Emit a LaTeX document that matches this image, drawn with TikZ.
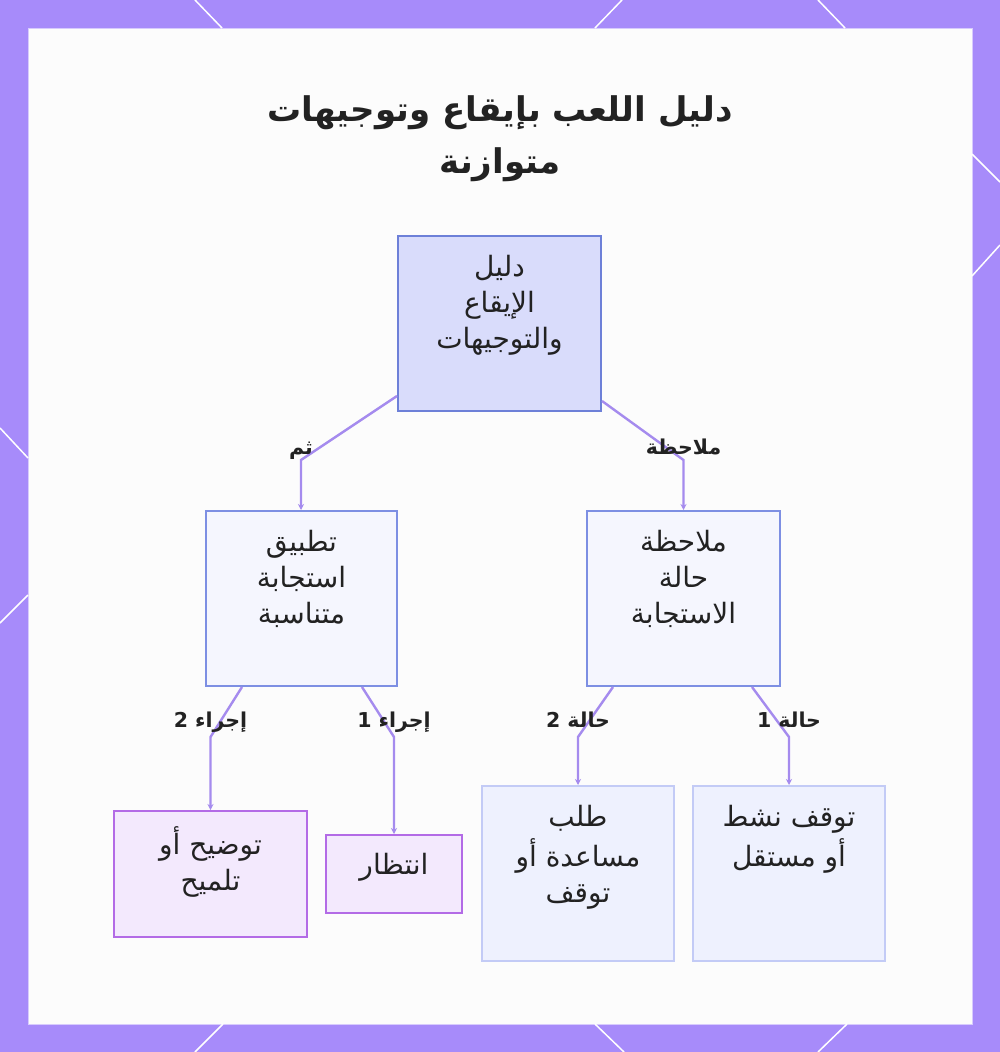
\documentclass[tikz,border=0pt]{standalone}
\usepackage{fontspec}
\usetikzlibrary{positioning}
\usetikzlibrary{calc}
\usetikzlibrary{arrows.meta}
\TeXXeTstate=1
\newfontfamily\arabicfont[Script=Arabic]{DejaVu Sans}
\newcommand{\ar}[1]{\beginR\strut #1\endR}
\definecolor{framecol}{HTML}{A78BFA}
\definecolor{edgecol}{HTML}{A58BEE}
\definecolor{ink}{HTML}{222222}
\definecolor{rootfill}{HTML}{D9DCFB}
\definecolor{rootline}{HTML}{6D80D8}
\definecolor{midfill}{HTML}{F5F6FE}
\definecolor{midline}{HTML}{7D8FE3}
\definecolor{leaffill}{HTML}{EEF1FE}
\definecolor{leafline}{HTML}{C3CBF6}
\definecolor{actfill}{HTML}{F3E9FD}
\definecolor{actline}{HTML}{B36BE6}
\tikzset{>={Stealth[length=6pt,width=6pt]}}
\tikzset{edge/.style={draw=edgecol, line width=2.4pt, ->}}
\tikzset{rootbox/.style={draw=rootline, fill=rootfill, line width=2pt, inner sep=0pt}}
\tikzset{midbox/.style={draw=midline, fill=midfill, line width=2pt, inner sep=0pt}}
\tikzset{leafbox/.style={draw=leafline, fill=leaffill, line width=2pt, inner sep=0pt}}
\tikzset{actbox/.style={draw=actline, fill=actfill, line width=2pt, inner sep=0pt}}
\tikzset{boxtext/.style={anchor=north, align=center, inner sep=0pt, text=ink, font=\arabicfont\fontsize{28}{36}\selectfont}}
\tikzset{lbl/.style={inner sep=0pt, text=ink, font=\arabicfont\bfseries\fontsize{20.5}{24}\selectfont}}
\tikzset{cornerline/.style={draw=white, line width=1.5pt}}

\begin{document}
\begin{tikzpicture}[x=1pt, y=-1pt]
\useasboundingbox (0,0) rectangle (1000,1052);

% frame
\fill[framecol] (0,0) rectangle (1000,1052);
\fill[white!98!gray] (28,28) rectangle (972,1024);
\draw[framecol!45, line width=1pt] (28,28) rectangle (972,1024);
\foreach \xa/\ya/\xb/\yb in {195/0/222/28, 622/0/595/28, 818/0/845/28,
    223/1024/195/1052, 595/1024/624/1052, 847/1024/818/1052,
    0/428/28/458, 28/595/0/623, 972/154/1000/182, 1000/245/972/276}
  \draw[cornerline] (\xa,\ya) -- (\xb,\yb);

% title
\node (title) [align=center, text=ink, font=\arabicfont\bfseries\fontsize{34}{52}\selectfont] at (500, 137)
  {\ar{دليل اللعب بإيقاع وتوجيهات}\\\ar{متوازنة}};

% boxes
\node (root) [rootbox, minimum width=203pt, minimum height=175pt] at (499.5, 323.5) {};
\node (rootT) [boxtext] at ([yshift=-16pt]root.north) {\ar{دليل}\\\ar{الإيقاع}\\\ar{والتوجيهات}};

\node (apply) [midbox, minimum width=191pt, minimum height=175pt] at (301.5, 598.5) {};
\node (applyT) [boxtext] at ([yshift=-16pt]apply.north) {\ar{تطبيق}\\\ar{استجابة}\\\ar{متناسبة}};

\node (observe) [midbox, minimum width=193pt, minimum height=175pt] at (683.5, 598.5) {};
\node (observeT) [boxtext] at ([yshift=-16pt]observe.north) {\ar{ملاحظة}\\\ar{حالة}\\\ar{الاستجابة}};

\node (clue) [actbox, minimum width=193pt, minimum height=126pt] at (210.5, 874) {};
\node (clueT) [boxtext] at ([yshift=-16pt]clue.north) {\ar{توضيح أو}\\\ar{تلميح}};

\node (wait) [actbox, minimum width=136pt, minimum height=78pt] at (394, 874) {};
\node (waitT) [boxtext] at ([yshift=-15pt]wait.north) {\ar{انتظار}};

\node (help) [leafbox, minimum width=192pt, minimum height=175pt] at (578, 873.5) {};
\node (helpT) [boxtext] at ([yshift=-16pt]help.north) {\ar{طلب}\\\ar{مساعدة أو}\\\ar{توقف}};

\node (pause) [leafbox, minimum width=192pt, minimum height=175pt] at (789, 873.5) {};
\node (pauseT) [boxtext] at ([yshift=-16pt]pause.north) {\ar{توقف نشط}\\\ar{أو مستقل}};

% connectors
\coordinate (bendA) at (301, 460);
\coordinate (bendB) at (683.5, 460);
\coordinate (bendC) at (210.5, 737);
\coordinate (bendD) at (394, 737);
\coordinate (bendE) at (578, 737);
\coordinate (bendF) at (789, 737);

\draw[edge] ([yshift=16pt]root.south west) -- (bendA) -- (bendA |- apply.north);
\draw[edge] ([yshift=11pt]root.south east) -- (bendB) -- (bendB |- observe.north);
\draw[edge] ([xshift=37pt]apply.south west) -- (bendC) -- (bendC |- clue.north);
\draw[edge] ([xshift=-36pt]apply.south east) -- (bendD) -- (bendD |- wait.north);
\draw[edge] ([xshift=27pt]observe.south west) -- (bendE) -- (bendE |- help.north);
\draw[edge] ([xshift=-29pt]observe.south east) -- (bendF) -- (bendF |- pause.north);

\node (thenL) [lbl] at ([yshift=10pt]bendA) {\ar{ثم}};
\node (noteL) [lbl] at ([yshift=10pt]bendB) {\ar{ملاحظة}};
\node (act2L) [lbl] at ([yshift=14pt]bendC) {\ar{إجراء 2}};
\node (act1L) [lbl] at ([yshift=14pt]bendD) {\ar{إجراء 1}};
\node (case2L) [lbl] at ([yshift=14pt]bendE) {\ar{حالة 2}};
\node (case1L) [lbl] at ([yshift=14pt]bendF) {\ar{حالة 1}};
\end{tikzpicture}
\end{document}
